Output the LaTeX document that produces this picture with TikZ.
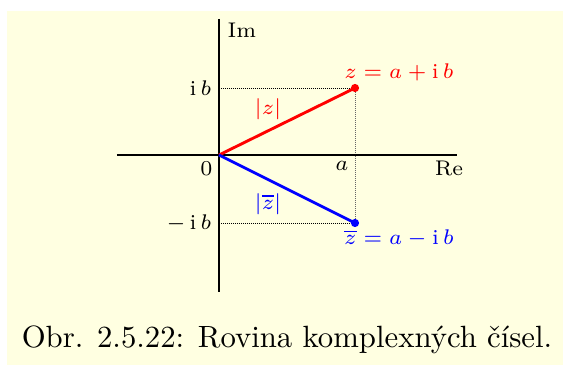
\documentclass[tikz,border=0pt]{standalone}
\usepackage{fontspec}
\begin{document}
\begin{tikzpicture}[x=0.33pt,y=-0.33pt,
  lbl/.style={inner sep=0pt,font=\fontsize{7}{8}\selectfont},
  axis/.style={line width=0.35pt},
  guide/.style={line width=0.3pt,dash pattern=on 0.33pt off 0.33pt},
  vec/.style={line width=0.95pt},
  pt/.style={circle,fill,inner sep=0pt,minimum size=2.7pt}]
\definecolor{bgyellow}{RGB}{255,255,225}
\useasboundingbox (0,0) rectangle (563,365);
\fill[bgyellow] (7,11) rectangle (563,365);
% coordinates
\coordinate (O) at (219,155);
\coordinate (xl) at (117,155);
\coordinate (xr) at (457,155);
\coordinate (yt) at (219,19);
\coordinate (yb) at (219,292);
\coordinate (zp) at (355,88);
\coordinate (zm) at (355,223);
\coordinate (yib) at (219,88);
\coordinate (ymib) at (219,223);
% guides
\draw[guide] (yib) -- (zp);
\draw[guide] (ymib) -- (zm);
\draw[guide,black!60] (zp) -- (zm);
% axes
\draw[axis] (xl) -- (xr);
\draw[axis] (yt) -- (yb);
% vectors
\draw[vec,red] (O) -- (zp);
\draw[vec,blue] (O) -- (zm);
\node[pt,red] (zdot) at (zp) {};
\node[pt,blue] (zbdot) at (zm) {};
% labels
\node[lbl,anchor=west] (Im) at (227,30) {Im};
\node[lbl,anchor=base] (Re) at (449,176) {Re};
\node[lbl,anchor=base east] (zero) at (213,176) {$0$};
\node[lbl,anchor=base] (alab) at (342,171) {$a$};
\node[lbl,anchor=east] (iblab) at (212,88) {$\mathrm{i}\,b$};
\node[lbl,anchor=east] (miblab) at (212,223) {$-\,\mathrm{i}\,b$};
\node[lbl,red] (absz) at (268,109) {$|z|$};
\node[lbl,blue] (abszb) at (268,204) {$|\overline{z}|$};
\node[lbl,red,anchor=base] (zlab) at (399,79) {$z=a+\mathrm{i}\,b$};
\node[lbl,blue,anchor=base] (zblab) at (399,245) {$\overline{z}=a-\mathrm{i}\,b$};
\node[inner sep=0pt,anchor=base,font=\fontsize{10.15}{12}\selectfont] (cap) at (287,348) {Obr. 2.5.22: Rovina komplexných čísel.};
\end{tikzpicture}
\end{document}
